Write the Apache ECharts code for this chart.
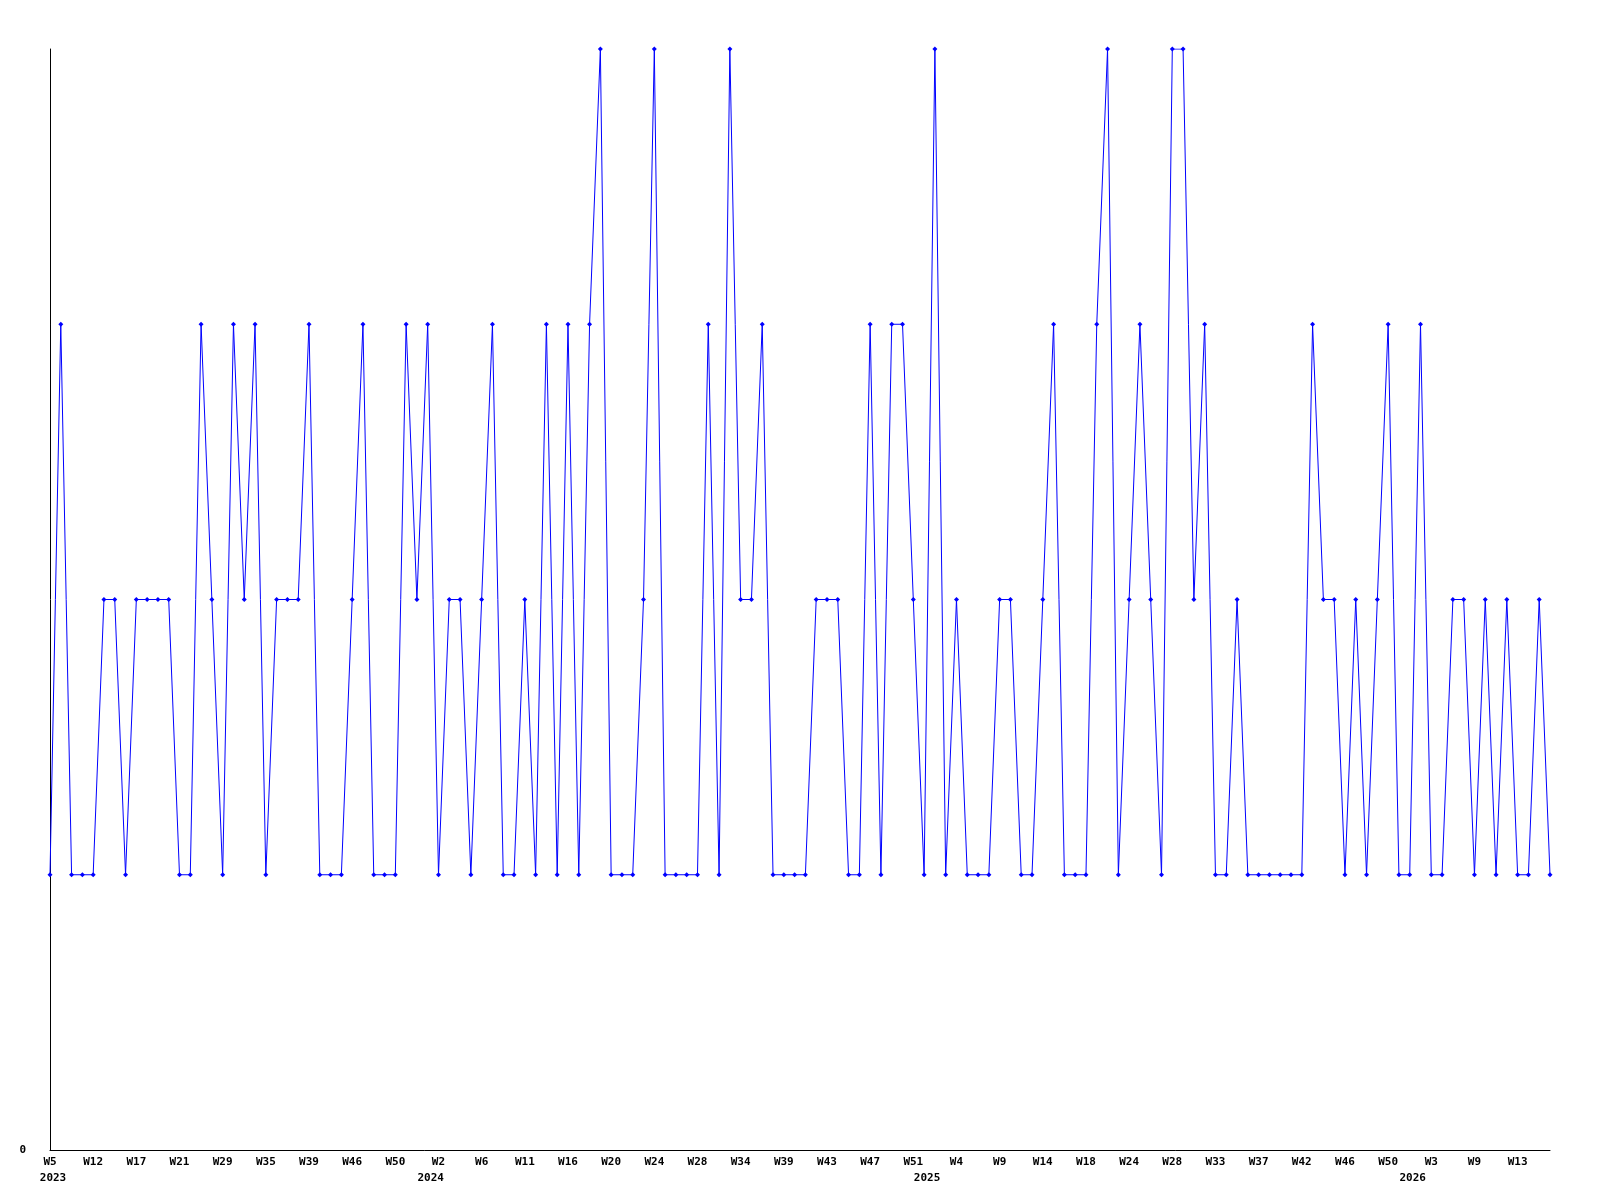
<!DOCTYPE html>
<html>
<head>
<meta charset="utf-8">
<script src="https://cdn.jsdelivr.net/npm/echarts@6/dist/echarts.min.js"></script>
<style>html,body{margin:0;padding:0;background:#fff}#c{width:1600px;height:1200px}</style>
</head>
<body>
<div id="c"></div>
<script>
// Category weeks (only every 4th is labelled in the chart; hidden ones estimated)
const weeks = [
 '2023-W5','2023-W7','2023-W9','2023-W10','2023-W12','2023-W13','2023-W14','2023-W16',
 '2023-W17','2023-W18','2023-W19','2023-W20','2023-W21','2023-W23','2023-W25','2023-W27',
 '2023-W29','2023-W30','2023-W32','2023-W33','2023-W35','2023-W36','2023-W37','2023-W38',
 '2023-W39','2023-W41','2023-W43','2023-W44','2023-W46','2023-W47','2023-W48','2023-W49',
 '2023-W50','2023-W51','2023-W52','2024-W1','2024-W2','2024-W3','2024-W4','2024-W5',
 '2024-W6','2024-W7','2024-W9','2024-W10','2024-W11','2024-W12','2024-W14','2024-W15',
 '2024-W16','2024-W17','2024-W18','2024-W19','2024-W20','2024-W21','2024-W22','2024-W23',
 '2024-W24','2024-W25','2024-W26','2024-W27','2024-W28','2024-W30','2024-W31','2024-W33',
 '2024-W34','2024-W35','2024-W37','2024-W38','2024-W39','2024-W40','2024-W41','2024-W42',
 '2024-W43','2024-W44','2024-W45','2024-W46','2024-W47','2024-W48','2024-W49','2024-W50',
 '2024-W51','2025-W1','2025-W2','2025-W3','2025-W4','2025-W5','2025-W7','2025-W8',
 '2025-W9','2025-W10','2025-W12','2025-W13','2025-W14','2025-W15','2025-W16','2025-W17',
 '2025-W18','2025-W20','2025-W21','2025-W23','2025-W24','2025-W25','2025-W26','2025-W27',
 '2025-W28','2025-W29','2025-W31','2025-W32','2025-W33','2025-W34','2025-W35','2025-W36',
 '2025-W37','2025-W38','2025-W40','2025-W41','2025-W42','2025-W43','2025-W44','2025-W45',
 '2025-W46','2025-W47','2025-W48','2025-W49','2025-W50','2025-W52','2026-W1','2026-W2',
 '2026-W3','2026-W4','2026-W6','2026-W7','2026-W9','2026-W10','2026-W11','2026-W12',
 '2026-W13','2026-W14','2026-W15','2026-W16'
];
const values = [
 1,3,1,1,1,2,2,1,2,2,2,2,1,1,3,2,1,3,2,3,1,2,2,
 2,3,1,1,1,2,3,1,1,1,3,2,3,1,2,2,1,2,3,1,1,2,1,
 3,1,3,1,3,4,1,1,1,2,4,1,1,1,1,3,1,4,2,2,3,1,1,
 1,1,2,2,2,1,1,3,1,3,3,2,1,4,1,2,1,1,1,2,2,1,1,
 2,3,1,1,1,3,4,1,2,3,2,1,4,4,2,3,1,1,2,1,1,1,1,
 1,1,3,2,2,1,2,1,2,3,1,1,3,1,1,2,2,1,2,1,2,1,1,2,1
];
const yTicks = [0];

const yearOf = s => s.split('-')[0];
const weekOf = s => s.split('-')[1];

const chart = echarts.init(document.getElementById('c'), null, {renderer: 'canvas'});
const font = {fontFamily: 'DejaVu Sans Mono', fontWeight: 'bold', fontSize: 11, color: '#000'};
chart.setOption({
  animation: false,
  backgroundColor: '#fff',
  grid: {left: 50, right: 50, top: 49, bottom: 50, containLabel: false},
  xAxis: [{
    type: 'category',
    data: weeks,
    boundaryGap: false,
    axisLine: {show: true, lineStyle: {color: '#000', width: 1}},
    axisTick: {show: false},
    splitLine: {show: false},
    axisLabel: Object.assign({}, font, {
      interval: 3,
      margin: 7,
      lineHeight: 11,
      formatter: function (val) { return weekOf(val); }
    })
  }, {
    type: 'category',
    data: weeks,
    boundaryGap: false,
    position: 'bottom',
    axisLine: {show: false},
    axisTick: {show: false},
    splitLine: {show: false},
    axisLabel: Object.assign({}, font, {
      margin: 23,
      lineHeight: 11,
      padding: [0, 0, 0, 6],
      interval: function (idx, val) {
        return idx === 0 || yearOf(weeks[idx]) !== yearOf(weeks[idx - 1]);
      },
      formatter: function (val) { return yearOf(val); }
    })
  }],
  yAxis: {
    type: 'value',
    min: 0,
    max: 4,
    interval: 1,
    axisLine: {show: true, lineStyle: {color: '#000', width: 1}},
    axisTick: {show: false},
    splitLine: {show: false},
    axisLabel: Object.assign({}, font, {
      margin: 24,
      formatter: function (v) { return yTicks.indexOf(v) >= 0 ? String(v) : ''; }
    })
  },
  series: [{
    type: 'line',
    xAxisIndex: 0,
    data: values,
    symbol: 'diamond',
    symbolSize: 5,
    showAllSymbol: true,
    lineStyle: {color: '#0000ff', width: 1},
    itemStyle: {color: '#0000ff'}
  }]
});
</script>
</body>
</html>
